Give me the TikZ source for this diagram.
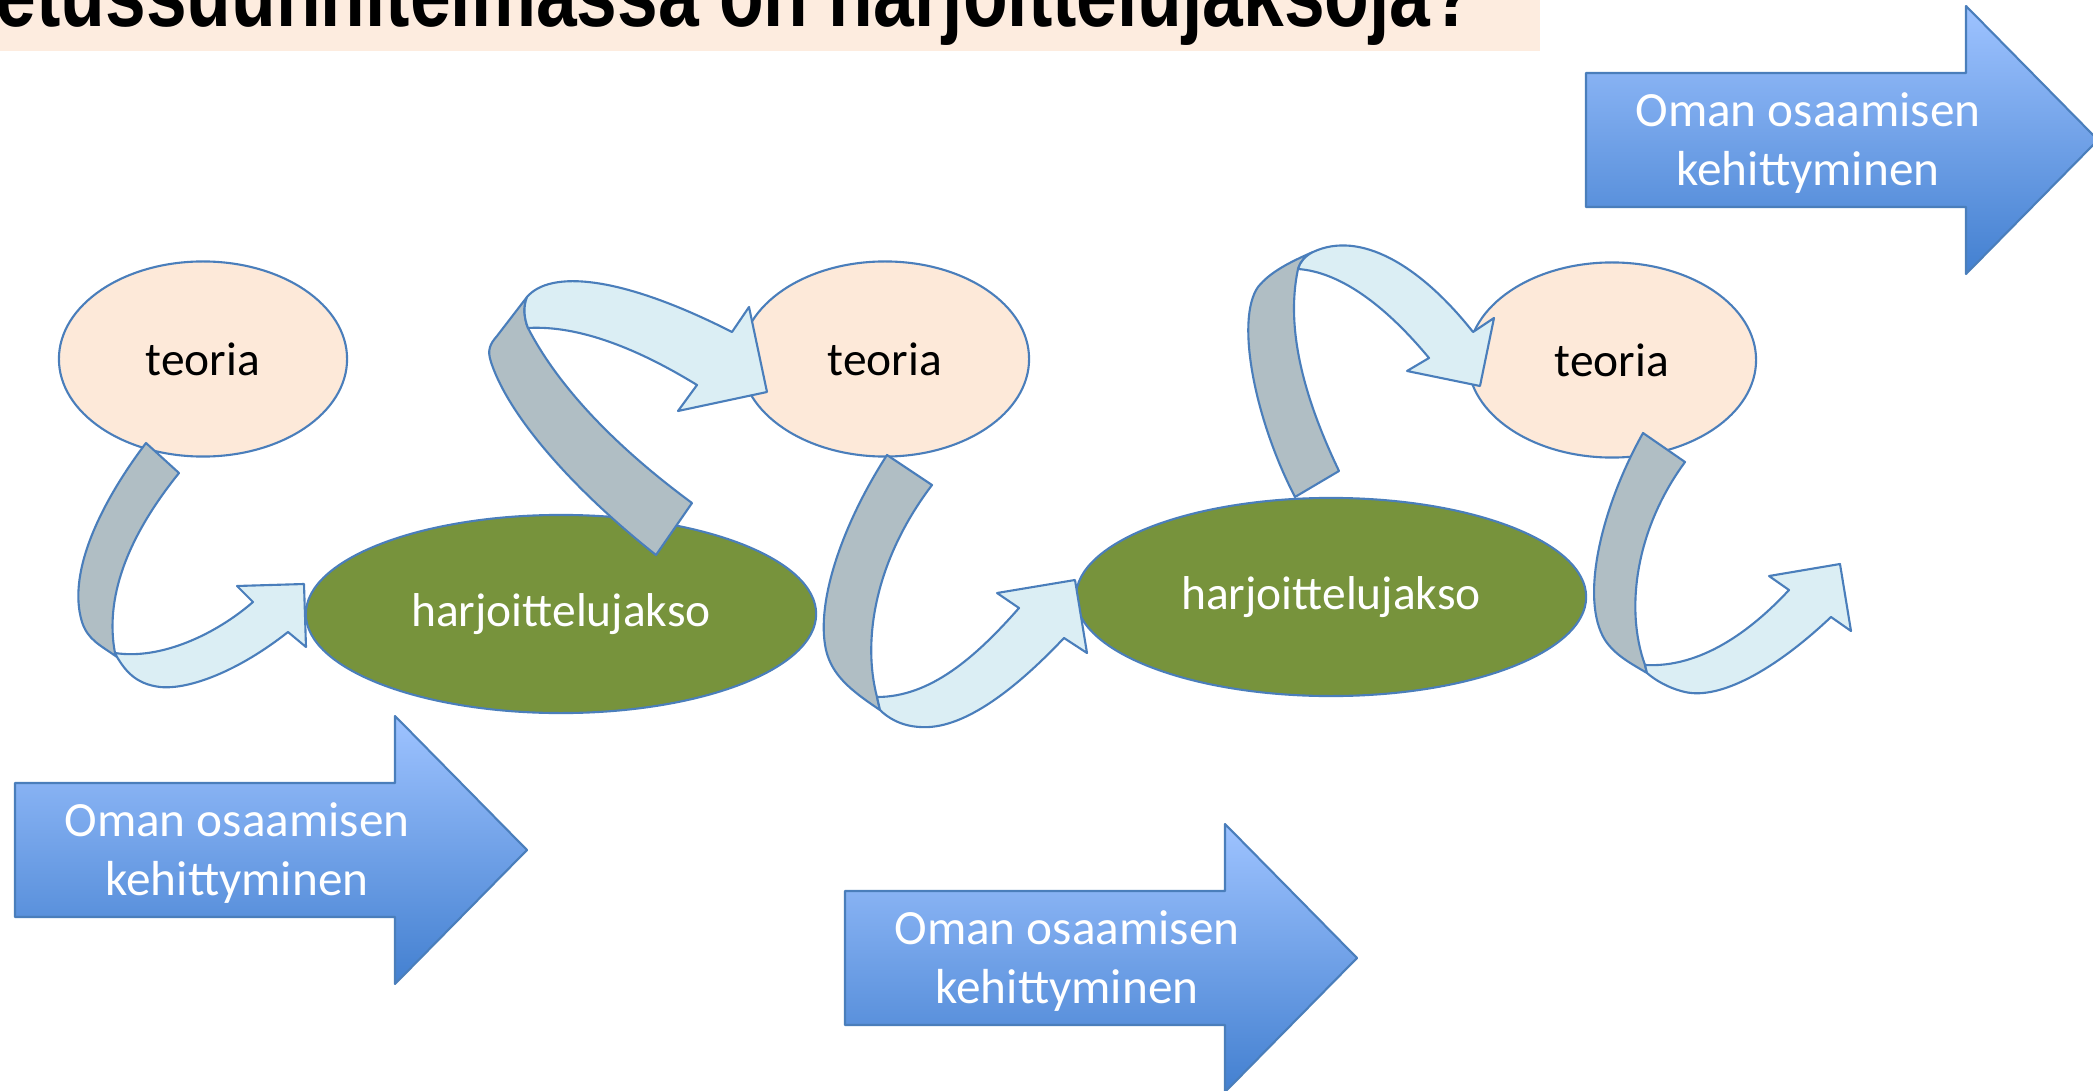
\documentclass[tikz,border=0pt]{standalone}
\usepackage{fontspec}
\setmainfont{Carlito}
\newfontfamily\titlefont[FakeStretch=0.8]{Liberation Sans}
\usetikzlibrary{shapes.geometric}
\definecolor{peach}{HTML}{FDE9D9}
\definecolor{olive}{HTML}{77933C}
\definecolor{rim}{HTML}{4A7EBB}
\definecolor{ribbongrey}{HTML}{B0BEC4}
\definecolor{ribbonblue}{HTML}{DBEEF4}
\definecolor{arrowtop}{HTML}{9EC3FF}
\definecolor{arrowbottom}{HTML}{4380D0}
\begin{document}
\begin{tikzpicture}[x=0.01cm, y=-0.01cm, line join=round,
    edge/.style={draw=rim, line width=.6pt},
    theory/.style={ellipse, edge, fill=peach, minimum width=2.88cm, minimum height=1.95cm, font=\fontsize{13.5}{16}\selectfont},
    practice/.style={ellipse, edge, fill=olive, text=white, minimum width=5.1cm, minimum height=1.98cm, font=\fontsize{13.5}{16}\selectfont},
    bigarrow/.style={edge, top color=arrowtop, bottom color=arrowbottom},
    arrowtext/.style={text=white, align=center, font=\fontsize{14}{17}\selectfont},
    backband/.style={edge, fill=ribbongrey},
    frontband/.style={edge, fill=ribbonblue}]
\useasboundingbox (0,0) rectangle (2093,1091);
\clip (0,0) rectangle (2093,1091);

\fill[peach!85!white] (0,0) rectangle (1540,51);
\node[anchor=base west, inner sep=0, font=\titlefont\bfseries\fontsize{26}{26}\selectfont] (title) at (-5,27) {etussuunnitelmassa on harjoittelujaksoja?};

\foreach \ax/\ay/\nm in {15/850/kehA, 845/958/kehB, 1586/140/kehC}
{
    \draw[bigarrow, shift={(\ax,\ay)}] (0,-67) -- (380,-67) -- (380,-134) -- (512,0) -- (380,134) -- (380,67) -- (0,67) -- cycle;
    \node[arrowtext] (\nm) at (\ax+222,\ay+3) {Oman osaamisen\\kehittyminen};
}

\node[theory] (teoria1) at (203,359) {teoria};
\node[theory] (teoria2) at (885,359) {teoria};
\node[theory] (teoria3) at (1612,360) {teoria};
\node[practice] (harj1) at (561,614) {harjoittelujakso};
\node[practice] (harj2) at (1331,597) {harjoittelujakso};

\draw[backband] (146,443) .. controls (105,497) and (66,570) .. (82,622) .. controls (88,640) and (100,645) .. (117,657)
    -- (115,653) .. controls (105,600) and (125,540) .. (179,473) -- cycle;
\draw[frontband] (115,653) .. controls (160,660) and (215,635) .. (253,602) -- (237,586) -- (304,584) -- (306,647) -- (288,632)
    .. controls (240,670) and (190,690) .. (160,687) .. controls (135,684) and (125,670) .. (117,657) -- cycle;

\draw[backband] (656,555) .. controls (580,495) and (510,420) .. (491,362) .. controls (487,350) and (490,344) .. (497,336) -- (527,297)
    .. controls (523,307) and (524,318) .. (528,328) .. controls (560,390) and (620,450) .. (692,503) -- cycle;
\draw[frontband] (527,297) .. controls (550,270) and (620,275) .. (732,332) -- (749,307) -- (767,392) -- (678,411) -- (697,385)
    .. controls (640,350) and (580,325) .. (528,328) .. controls (524,318) and (523,307) .. (527,297) -- cycle;

\draw[backband] (887,455) .. controls (845,520) and (815,600) .. (826,650) .. controls (832,675) and (850,690) .. (880,710)
    -- (877,697) .. controls (862,640) and (875,560) .. (932,485) -- cycle;
\draw[frontband] (877,697) .. controls (930,697) and (975,658) .. (1019,608) -- (997,593) -- (1075,580) -- (1087,653) -- (1064,638)
    .. controls (1010,695) and (960,730) .. (920,727) .. controls (900,726) and (887,717) .. (880,710) -- cycle;

\draw[backband] (1295,497) .. controls (1255,420) and (1235,320) .. (1258,287) .. controls (1270,272) and (1290,262) .. (1313,252)
    .. controls (1305,256) and (1300,262) .. (1298,269) .. controls (1285,330) and (1305,400) .. (1339,471) -- cycle;
\draw[frontband] (1313,252) .. controls (1360,230) and (1420,265) .. (1473,332) -- (1494,318) -- (1480,386) -- (1407,371) -- (1429,358)
    .. controls (1385,305) and (1340,272) .. (1298,269) .. controls (1300,262) and (1305,256) .. (1313,252) -- cycle;

\draw[backband] (1643,433) .. controls (1600,510) and (1580,600) .. (1605,640) .. controls (1615,655) and (1630,663) .. (1647,673)
    -- (1645,665) .. controls (1625,610) and (1635,530) .. (1685,462) -- cycle;
\draw[frontband] (1645,665) .. controls (1700,668) and (1750,632) .. (1789,590) -- (1769,576) -- (1840,564) -- (1851,631) -- (1831,617)
    .. controls (1775,670) and (1720,700) .. (1685,692) .. controls (1668,688) and (1655,680) .. (1647,673) -- cycle;

\end{tikzpicture}
\end{document}
